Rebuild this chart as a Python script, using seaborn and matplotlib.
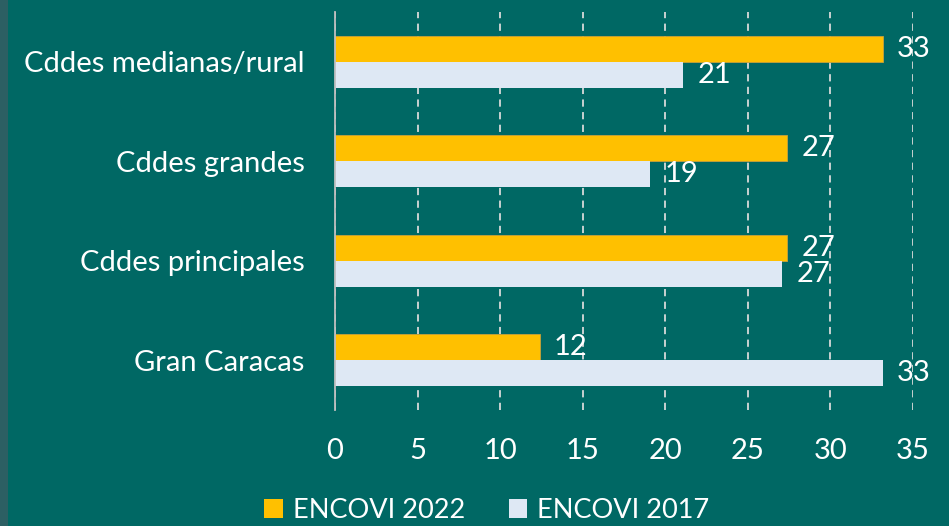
import matplotlib
matplotlib.use("Agg")
import matplotlib.pyplot as plt
import seaborn as sns
import pandas as pd
from matplotlib.patches import Rectangle, Patch

categories = ["Cddes medianas/rural", "Cddes grandes", "Cddes principales", "Gran Caracas"]
series_names = ["ENCOVI 2022", "ENCOVI 2017"]
values_2022 = [33.2, 27.4, 27.4, 12.4]
values_2017 = [21.1, 19.1, 27.1, 33.2]
x_ticks = [0, 5, 10, 15, 20, 25, 30, 35]

BG = "#006864"
C2022 = "#FFC000"
C2017 = "#DEE8F4"
FS = 21

df = pd.DataFrame({
    "cat": categories * 2,
    "serie": [series_names[0]] * 4 + [series_names[1]] * 4,
    "val": values_2022 + values_2017,
})

sns.set_theme(style="white")
plt.rcParams["font.family"] = ["Lato", "DejaVu Sans"]

fig = plt.figure(figsize=(9.49, 5.26), dpi=100, facecolor=BG)
fig.patches.append(Rectangle((0, 0), 0.008, 1, transform=fig.transFigure,
                             facecolor="#2c5f63", edgecolor="none", zorder=0))
ax = fig.add_axes([0.353, 0.2205, 0.609, 0.7565])
ax.set_facecolor(BG)

sns.barplot(data=df, y="cat", x="val", hue="serie", orient="h",
            palette=[C2022, C2017], width=0.52, ax=ax, legend=False,
            saturation=1, linewidth=0)
for p in ax.containers[0]:
    p.set_edgecolor("#c9a13a")
    p.set_linewidth(0.6)

for cont in ax.containers:
    ax.bar_label(cont, fmt="%.0f", padding=10, color="white", fontsize=FS)

ax.set_xlim(0, 35)
ax.set_xticks(x_ticks)
ax.set_xticklabels([str(t) for t in x_ticks], color="white", fontsize=FS)
ax.tick_params(axis="x", length=0, pad=20)
ax.tick_params(axis="y", length=0, pad=22, labelcolor="white", labelsize=FS)
ax.set_xlabel("")
ax.set_ylabel("")
ax.xaxis.grid(True, linestyle=(0, (4, 3)), color="#d9d9d9", linewidth=1.3)
ax.yaxis.grid(False)
ax.set_axisbelow(True)
for s in ["top", "right", "bottom"]:
    ax.spines[s].set_visible(False)
ax.spines["left"].set_color("#bfbfbf")
ax.spines["left"].set_linewidth(1.3)

handles = [Patch(facecolor=C2022, edgecolor="none"), Patch(facecolor=C2017, edgecolor="none")]
fig.legend(handles, series_names, loc="center", bbox_to_anchor=(0.513, 0.03),
           ncol=2, frameon=False, fontsize=19.5, labelcolor="white",
           handlelength=0.7, handleheight=0.7, handletextpad=0.35, columnspacing=1.6,
           borderpad=0.1)

fig.savefig("out.png", dpi=100, facecolor=BG)
